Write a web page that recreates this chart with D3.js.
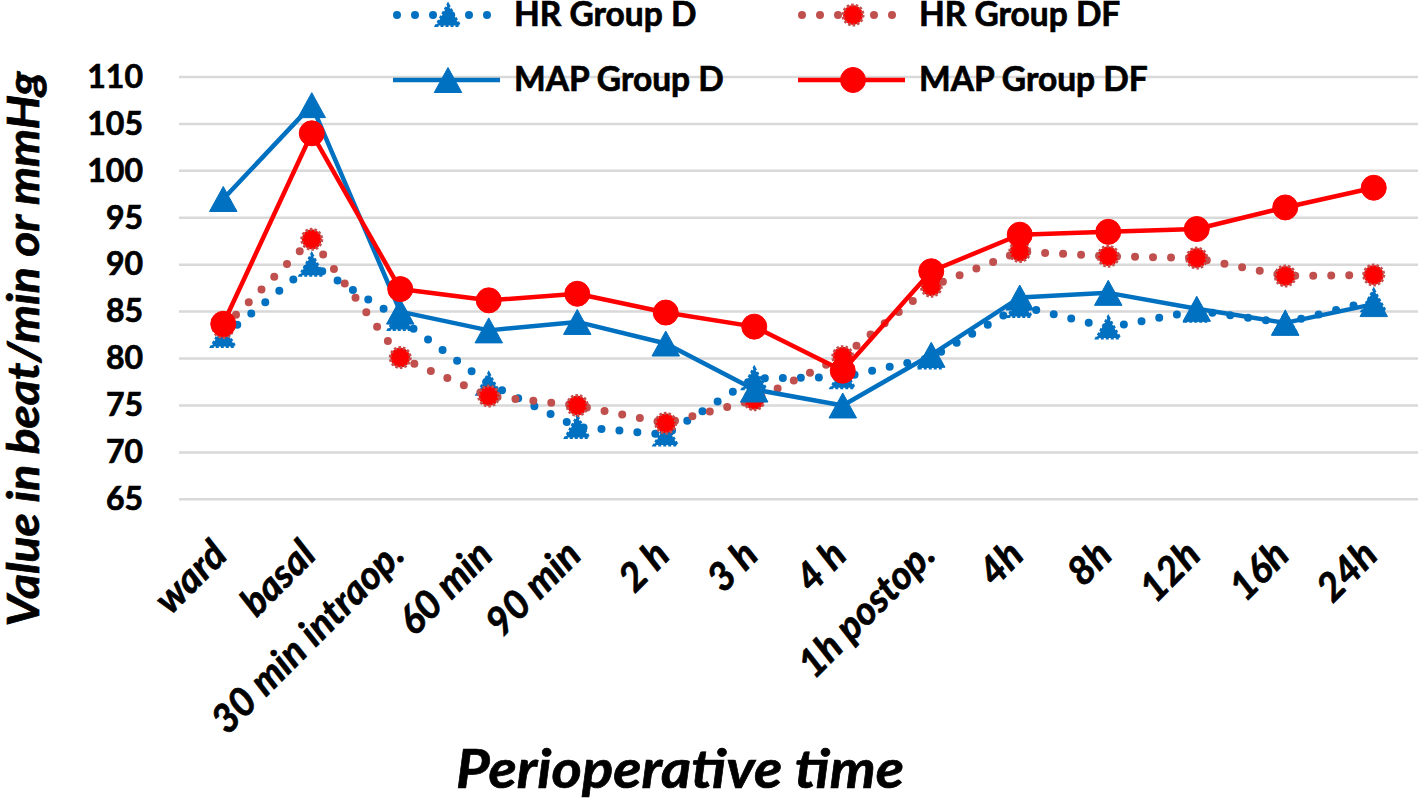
<!DOCTYPE html>
<html>
<head>
<meta charset="utf-8">
<script src="https://cdn.jsdelivr.net/npm/d3@7"></script>
<style>
  body { margin: 0; background: #fff; }
  svg { font-family: Lato, 'Open Sans', sans-serif; font-weight: bold; }
  svg text { stroke: #000; stroke-width: 0.7px; paint-order: stroke; fill: #000; }
</style>
</head>
<body>
<svg></svg>
<script>
const categories = ['ward', 'basal', '30 min intraop.', '60 min', '90 min', '2 h', '3 h', '4 h',
  '1h postop.', '4h', '8h', '12h', '16h', '24h'];
const hrD = [82.4, 90.0, 84.2, 77.3, 72.7, 71.9, 77.9, 78.0, 80.1, 85.6, 83.3, 85.1, 83.8, 86.2];
const hrDF = [83.3, 92.7, 80.1, 76.0, 75.0, 73.1, 75.6, 80.2, 87.7, 91.4, 90.9, 90.7, 88.8, 88.9];
const mapD = [97.0, 107.0, 85.0, 83.0, 83.9, 81.6, 76.7, 75.0, 80.4, 86.5, 87.0, 85.3, 83.8, 85.8];
const mapDF = [83.7, 104.0, 87.4, 86.2, 86.9, 84.9, 83.4, 78.7, 89.3, 93.2, 93.5, 93.8, 96.1, 98.2];
const yTicks = [65, 70, 75, 80, 85, 90, 95, 100, 105, 110];

const svgWidth = 1418;
const svgHeight = 799;

const svg = d3.select('svg')
    .attr('width', svgWidth)
    .attr('height', svgHeight);

const xScale = d3.scalePoint()
    .domain(categories)
    .range([179, 1418])
    .padding(0.5);

const yScale = d3.scaleLinear()
    .domain([65, 110])
    .range([499.3, 77]);

// gridlines
svg.append('g')
    .selectAll('line')
    .data(yTicks)
    .enter()
    .append('line')
    .attr('x1', 179)
    .attr('x2', 1418)
    .attr('y1', (d) => yScale(d))
    .attr('y2', (d) => yScale(d))
    .attr('stroke', '#d9d9d9')
    .attr('stroke-width', 2.5);

// y axis labels
const yAxis = svg.append('g')
    .attr('transform', 'translate(143, 0)')
    .call(d3.axisLeft(yScale).tickValues(yTicks).tickSize(0).tickPadding(0));
yAxis.select('.domain').remove();
yAxis.selectAll('text')
    .attr('font-family', 'Lato, sans-serif')
    .attr('font-weight', 'bold')
    .attr('font-size', 32)
    .attr('fill', '#000');

// x axis labels
const xAxis = svg.append('g');
xAxis.selectAll('text')
    .data(categories)
    .enter()
    .append('text')
    .attr('transform', (d) => `translate(${xScale(d) + 6}, 557) rotate(-45)`)
    .attr('text-anchor', 'end')
    .attr('font-style', 'italic')
    .attr('font-size', 39)
    .text((d) => d);

const blue = '#0070c0';
const red = '#ff0000';
const brown = '#c0504d';

const triangle = (s) => `M0,${-s * 0.5}L${s * 0.55},${s * 0.5}L${-s * 0.55},${s * 0.5}Z`;

const series = [
  { values: hrD, line: blue, dotted: true, marker: 'tri', size: 21, fill: blue, mstroke: blue },
  { values: hrDF, line: brown, dotted: true, marker: 'circ', size: 10, fill: red, mstroke: brown },
  { values: mapD, line: blue, dotted: false, marker: 'tri', size: 25, fill: blue, mstroke: blue },
  { values: mapDF, line: red, dotted: false, marker: 'circ', size: 12.5, fill: red, mstroke: red },
];

const line = d3.line()
    .x((d, i) => xScale(categories[i]))
    .y((d) => yScale(d));

function drawMarker(g, s) {
  if (s.marker === 'tri') {
    g.append('path')
        .attr('d', triangle(s.size))
        .attr('fill', s.fill)
        .attr('stroke', s.mstroke)
        .attr('stroke-width', s.dotted ? 3 : 1)
        .attr('stroke-dasharray', s.dotted ? '3,2' : null);
  } else {
    g.append('circle')
        .attr('r', s.size)
        .attr('fill', s.fill)
        .attr('stroke', s.mstroke)
        .attr('stroke-width', s.dotted ? 3 : 1)
        .attr('stroke-dasharray', s.dotted ? '2.5,2' : null);
  }
}

series.forEach((s) => {
  svg.append('path')
      .datum(s.values)
      .attr('d', line)
      .attr('fill', 'none')
      .attr('stroke', s.line)
      .attr('stroke-width', s.dotted ? 8 : 4.5)
      .attr('stroke-linecap', s.dotted ? 'round' : 'butt')
      .attr('stroke-linejoin', 'round')
      .attr('stroke-dasharray', s.dotted ? '0,18' : null);

  s.values.forEach((v, i) => {
    const g = svg.append('g')
        .attr('transform', `translate(${xScale(categories[i])}, ${yScale(v)})`);
    drawMarker(g, s);
  });
});

// legend
const legendItems = [
  { name: 'HR Group D', s: series[0], x: 393, y: 15 },
  { name: 'HR Group DF', s: series[1], x: 798, y: 15 },
  { name: 'MAP Group D', s: series[2], x: 393, y: 80 },
  { name: 'MAP Group DF', s: series[3], x: 798, y: 80 },
];

legendItems.forEach((item) => {
  const s = item.s;
  svg.append('line')
      .attr('x1', item.x + (s.dotted ? 4 : 0))
      .attr('x2', item.x + 107)
      .attr('y1', item.y)
      .attr('y2', item.y)
      .attr('stroke', s.line)
      .attr('stroke-width', s.dotted ? 8 : 4.5)
      .attr('stroke-linecap', s.dotted ? 'round' : 'butt')
      .attr('stroke-dasharray', s.dotted ? '0,18' : null);
  const g = svg.append('g')
      .attr('transform', `translate(${item.x + 55}, ${item.y})`);
  drawMarker(g, s);
  svg.append('text')
      .attr('x', item.x + 121)
      .attr('y', item.y + 11)
      .attr('font-size', 33.5)
      .text(item.name);
});

// axis titles
svg.append('text')
    .attr('x', 680)
    .attr('y', 788)
    .attr('text-anchor', 'middle')
    .attr('font-style', 'italic')
    .attr('font-size', 54)
    .attr('textLength', 448)
    .attr('lengthAdjust', 'spacingAndGlyphs')
    .text('Perioperative time');

svg.append('text')
    .attr('transform', 'translate(39, 349) rotate(-90)')
    .attr('text-anchor', 'middle')
    .attr('font-style', 'italic')
    .attr('font-size', 44)
    .attr('textLength', 555)
    .attr('lengthAdjust', 'spacingAndGlyphs')
    .text('Value in beat/min or mmHg');
</script>
</body>
</html>
